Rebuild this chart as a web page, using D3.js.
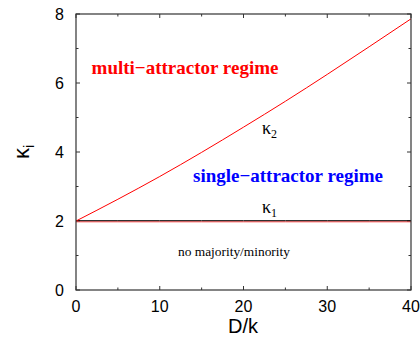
<!DOCTYPE html>
<html>
<head>
<meta charset="utf-8">
<script src="https://cdn.jsdelivr.net/npm/d3@7"></script>
<style>
  body { margin: 0; background: #fff; }
  svg { display: block; }
  .tick-label { font-family: "Liberation Sans", Arial, sans-serif; font-size: 16px; fill: #000; }
  .ann { font-family: "Liberation Serif", "Times New Roman", serif; }
</style>
</head>
<body>
<div id="chart"></div>
<script>
// kappa_2 boundary, kappa_1 is flat
const dValues = [0, 5, 10, 15, 20, 25, 30, 35, 40];
const kappa2 = [2.0, 2.63, 3.29, 3.99, 4.72, 5.47, 6.25, 7.05, 7.86];
const kappa1 = [2, 2, 2, 2, 2, 2, 2, 2, 2];
const xTicks = [0, 10, 20, 30, 40];
const yTicks = [0, 2, 4, 6, 8];
const xMinor = [5, 15, 25, 35];
const yMinor = [1, 3, 5, 7];

const width = 420, height = 338;
const margin = { left: 76, right: 9, top: 14, bottom: 48 };

const svg = d3.select('#chart').append('svg')
    .attr('width', width)
    .attr('height', height);

const x = d3.scaleLinear().domain([0, 40]).range([margin.left, width - margin.right]);
const y = d3.scaleLinear().domain([0, 8]).range([height - margin.bottom, margin.top]);

const frameColor = '#333';

// ticks on all four sides, pointing inward
function drawTicks(vals, len) {
    vals.forEach(v => {
        svg.append('line').attr('x1', x(v)).attr('x2', x(v))
            .attr('y1', y(0)).attr('y2', y(0) - len).attr('stroke', frameColor);
        svg.append('line').attr('x1', x(v)).attr('x2', x(v))
            .attr('y1', y(8)).attr('y2', y(8) + len).attr('stroke', frameColor);
    });
}
function drawYTicks(vals, len) {
    vals.forEach(v => {
        svg.append('line').attr('x1', x(0)).attr('x2', x(0) + len)
            .attr('y1', y(v)).attr('y2', y(v)).attr('stroke', frameColor);
        svg.append('line').attr('x1', x(40)).attr('x2', x(40) - len)
            .attr('y1', y(v)).attr('y2', y(v)).attr('stroke', frameColor);
    });
}
drawTicks(xTicks, 4);
drawTicks(xMinor, 2.5);
drawYTicks(yTicks, 4);
drawYTicks(yMinor, 2.5);

// tick labels
svg.selectAll('.xl').data(xTicks).enter().append('text')
    .attr('class', 'tick-label')
    .attr('x', d => x(d))
    .attr('y', y(0) + 22)
    .attr('text-anchor', 'middle')
    .text(d => d);

svg.selectAll('.yl').data(yTicks).enter().append('text')
    .attr('class', 'tick-label')
    .attr('x', x(0) - 12)
    .attr('y', d => y(d) + 6)
    .attr('text-anchor', 'end')
    .text(d => d);

// curves
const line = d3.line()
    .x((d, i) => x(dValues[i]))
    .y(d => y(d))
    .curve(d3.curveMonotoneX);

svg.append('path').datum(kappa1)
    .attr('d', line)
    .attr('fill', 'none')
    .attr('stroke', '#ff4040')
    .attr('stroke-width', 1)
    .attr('transform', 'translate(0,0.8)');

svg.append('path').datum(kappa1)
    .attr('d', line)
    .attr('fill', 'none')
    .attr('stroke', '#000')
    .attr('stroke-width', 1)
    .attr('transform', 'translate(0,-0.3)');

svg.append('path').datum(kappa2)
    .attr('d', line)
    .attr('fill', 'none')
    .attr('stroke', '#ff0000')
    .attr('stroke-width', 1);

// frame
svg.append('rect')
    .attr('x', x(0)).attr('y', y(8))
    .attr('width', x(40) - x(0)).attr('height', y(0) - y(8))
    .attr('fill', 'none')
    .attr('stroke', frameColor)
    .attr('stroke-width', 1.2);

// annotations
svg.append('text').attr('class', 'ann')
    .attr('x', 185).attr('y', 74)
    .attr('text-anchor', 'middle')
    .attr('font-size', 19).attr('font-weight', 'bold')
    .attr('fill', '#ff0000')
    .text('multi\u2212attractor regime');

svg.append('text').attr('class', 'ann')
    .attr('x', 288).attr('y', 182)
    .attr('text-anchor', 'middle')
    .attr('font-size', 19).attr('font-weight', 'bold')
    .attr('fill', '#0000ff')
    .text('single\u2212attractor regime');

function kappaLabel(px, py, sub) {
    const t = svg.append('text').attr('class', 'ann')
        .attr('x', px).attr('y', py)
        .attr('font-size', 18).attr('fill', '#000');
    t.append('tspan').text('\u03ba');
    t.append('tspan').attr('font-size', 12).attr('dy', 4).text(sub);
}
kappaLabel(262, 134, '2');
kappaLabel(262, 213, '1');

svg.append('text').attr('class', 'ann')
    .attr('x', 234).attr('y', 256)
    .attr('text-anchor', 'middle')
    .attr('font-size', 13.4)
    .attr('fill', '#000')
    .text('no majority/minority');

// axis titles
svg.append('text')
    .attr('x', 243).attr('y', 333)
    .attr('text-anchor', 'middle')
    .attr('font-family', '"Liberation Sans", Arial, sans-serif')
    .attr('font-size', 20)
    .text('D/k');

const yt = svg.append('text')
    .attr('transform', 'translate(29,152) rotate(-90)')
    .attr('text-anchor', 'middle')
    .attr('font-family', '"Liberation Sans", Arial, sans-serif')
    .attr('font-size', 22);
yt.append('tspan').text('\u03ba');
yt.append('tspan').attr('font-size', 14).attr('dy', 5).text('i');
</script>
</body>
</html>
